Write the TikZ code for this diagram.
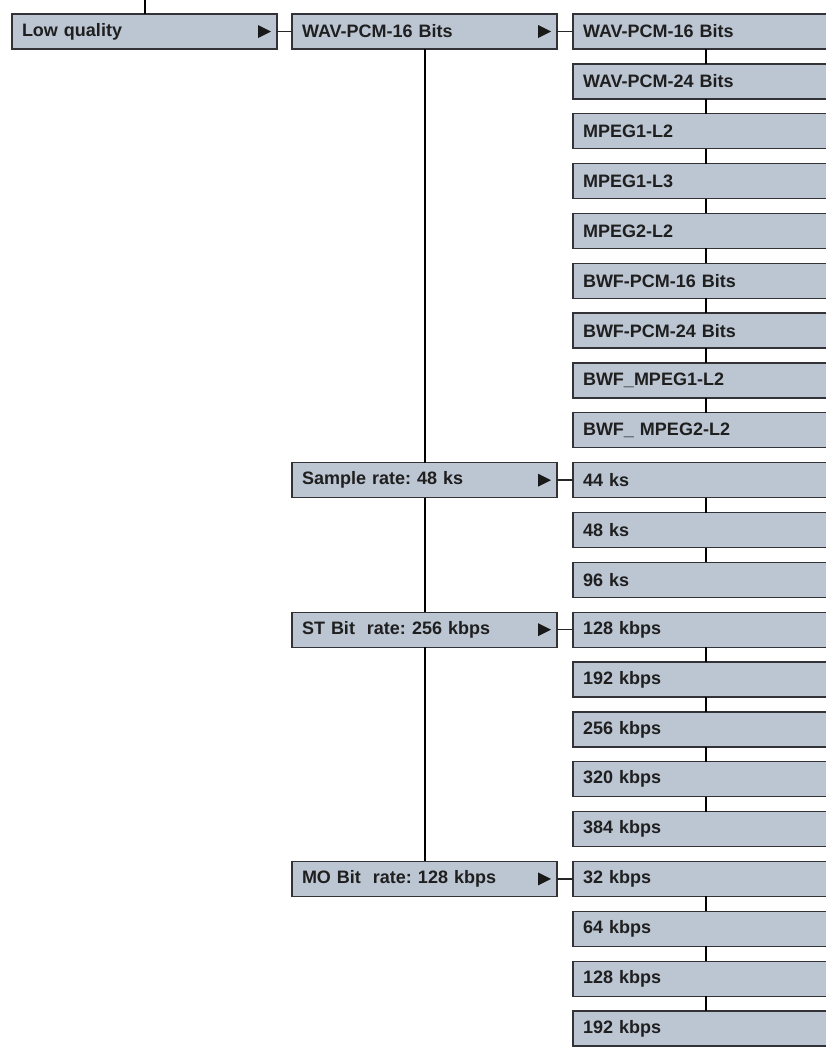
\documentclass[tikz,border=0pt]{standalone}
\usepackage{fontspec}
\setmainfont{Liberation Sans}
\usepackage{xcolor}
\usepackage{tikz}
\usetikzlibrary{positioning}

\definecolor{boxfill}{RGB}{188,198,211}
\definecolor{boxline}{RGB}{50,50,55}

\frenchspacing

\begin{document}
\begin{tikzpicture}[
  x=1pt, y=1pt,
  node distance=14.85pt and 15pt,
  item/.style={
    rectangle,
    draw=boxline,
    line width=1.3pt,
    fill=boxfill,
    outer sep=0pt,
    minimum height=35pt,
    text width=245pt,
    inner xsep=10pt,
    align=left,
    text=black!88,
    font=\fontsize{18}{21}\selectfont\bfseries
  },
  menu/.style={
    item,
    path picture={
      \fill[black!90] ([xshift=-6pt]path picture bounding box.east)
        -- ++(-13pt,6.5pt) -- ++(0,-13pt) -- cycle;
    }
  },
  link/.style={line width=1.5pt, black!85},
  trunk/.style={line width=2pt, black}
]

  \clip (0,0) rectangle (826,-1047);

  % Level 1 and 2
  \node (lowq) [menu] at (144.5,-31.5) {Low quality};
  \node (fmt)  [menu, right=of lowq]     {WAV-PCM-16 Bits};

  % Formats
  \node (wav16) [item, right=16pt of fmt] {WAV-PCM-16 Bits};
  \node (wav24) [item, below=of wav16]    {WAV-PCM-24 Bits};
  \node (mp1l2) [item, below=of wav24]    {MPEG1-L2};
  \node (mp1l3) [item, below=of mp1l2]    {MPEG1-L3};
  \node (mp2l2) [item, below=of mp1l3]    {MPEG2-L2};
  \node (bwf16) [item, below=of mp2l2]    {BWF-PCM-16 Bits};
  \node (bwf24) [item, below=of bwf16]    {BWF-PCM-24 Bits};
  \node (bwfm1) [item, below=of bwf24]    {BWF\_MPEG1-L2};
  \node (bwfm2) [item, below=of bwfm1]    {BWF\_ MPEG2-L2};

  % Sample rates
  \node (ks44) [item, below=of bwfm2] {44 ks};
  \node (ks48) [item, below=of ks44]  {48 ks};
  \node (ks96) [item, below=of ks48]  {96 ks};
  \node (rate) [menu, left=16pt of ks44] {Sample rate: 48 ks};

  % Stereo bit rates
  \node (st128) [item, below=of ks96]  {128 kbps};
  \node (st192) [item, below=of st128] {192 kbps};
  \node (st256) [item, below=of st192] {256 kbps};
  \node (st320) [item, below=of st256] {320 kbps};
  \node (st384) [item, below=of st320] {384 kbps};
  \node (stbit) [menu, left=16pt of st128] {ST Bit\ \ rate: 256 kbps};

  % Mono bit rates
  \node (mo32)  [item, below=of st384] {32 kbps};
  \node (mo64)  [item, below=of mo32]  {64 kbps};
  \node (mo128) [item, below=of mo64]  {128 kbps};
  \node (mo192) [item, below=of mo128] {192 kbps};
  \node (mobit) [menu, left=16pt of mo32] {MO Bit\ \ rate: 128 kbps};

  % Lines
  \coordinate (top) at (lowq.north |- 0,0);
  \draw [trunk] (top) -- (lowq.north);

  \draw [link] (lowq) -- (fmt);
  \draw [link] (fmt) -- (wav16);
  \draw [link] (rate) -- (ks44);
  \draw [link] (stbit) -- (st128);
  \draw [link] (mobit) -- (mo32);

  \draw [trunk] (fmt) -- (rate);
  \draw [trunk] (rate) -- (stbit);
  \draw [trunk] (stbit) -- (mobit);

  \draw [trunk] (wav16) -- (wav24);
  \draw [trunk] (wav24) -- (mp1l2);
  \draw [trunk] (mp1l2) -- (mp1l3);
  \draw [trunk] (mp1l3) -- (mp2l2);
  \draw [trunk] (mp2l2) -- (bwf16);
  \draw [trunk] (bwf16) -- (bwf24);
  \draw [trunk] (bwf24) -- (bwfm1);
  \draw [trunk] (bwfm1) -- (bwfm2);

  \draw [trunk] (ks44) -- (ks48);
  \draw [trunk] (ks48) -- (ks96);

  \draw [trunk] (st128) -- (st192);
  \draw [trunk] (st192) -- (st256);
  \draw [trunk] (st256) -- (st320);
  \draw [trunk] (st320) -- (st384);

  \draw [trunk] (mo32) -- (mo64);
  \draw [trunk] (mo64) -- (mo128);
  \draw [trunk] (mo128) -- (mo192);

\end{tikzpicture}
\end{document}
